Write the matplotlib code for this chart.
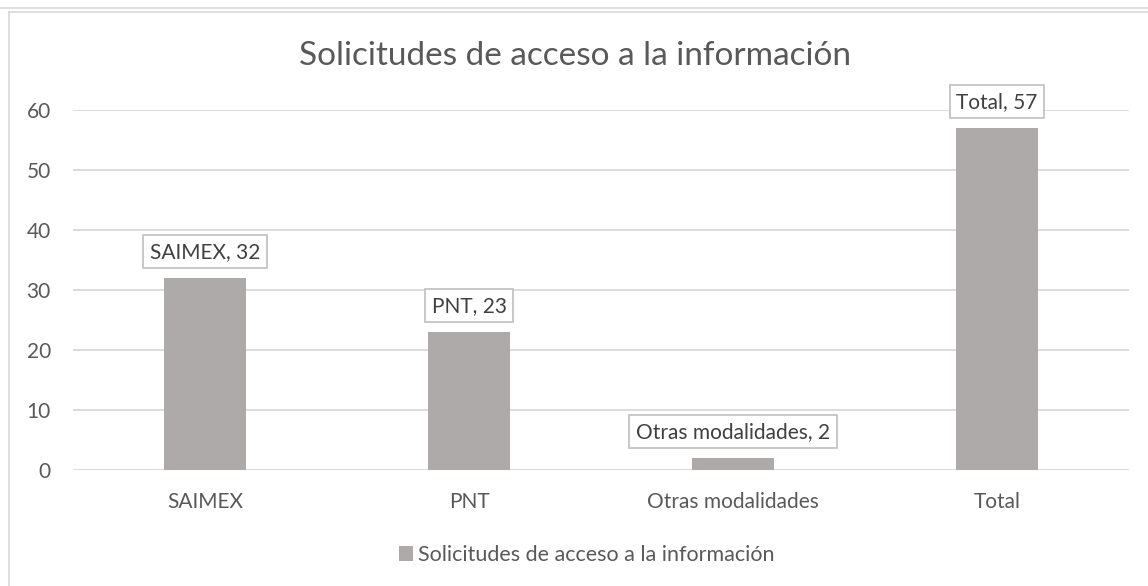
#!/usr/bin/env python3
import matplotlib
matplotlib.use("Agg")
import matplotlib.pyplot as plt
from matplotlib.lines import Line2D

categories = ["SAIMEX", "PNT", "Otras modalidades", "Total"]
values = [32, 23, 2, 57]
series_name = "Solicitudes de acceso a la información"
title = "Solicitudes de acceso a la información"
yticks = [0, 10, 20, 30, 40, 50, 60]

plt.rcParams['font.family'] = ['Lato', 'DejaVu Sans']

W, H = 1148, 586
fig = plt.figure(figsize=(W / 100, H / 100), dpi=100)
ax = fig.add_axes([73 / W, (H - 470) / H, 1056 / W, 360 / H])

bar_color = "#AEAAAA"
text_color = "#595959"
grid_color = "#D9D9D9"

x = list(range(len(categories)))
ax.bar(x, values, width=0.31, color=bar_color, zorder=2, label=series_name)

ax.set_xlim(-0.5, len(categories) - 0.5)
ax.set_ylim(0, 60)
ax.set_yticks(yticks)
ax.set_xticks(x)
ax.set_xticklabels(categories)
ax.tick_params(axis="both", length=0, labelsize=15, colors=text_color)
ax.tick_params(axis="x", pad=16)
ax.tick_params(axis="y", pad=16)
ax.yaxis.grid(True, color=grid_color, linewidth=1.3, zorder=0)
for s in ax.spines.values():
    s.set_visible(False)

# data labels in boxes
for xi, cat, v in zip(x, categories, values):
    ax.annotate(f"{cat}, {v}", (xi, v), xytext=(0, 19), textcoords="offset points",
                ha="center", va="center", fontsize=15, color="#404040", zorder=4,
                bbox=dict(boxstyle="square,pad=0.32", fc="white", ec="#BFBFBF", lw=1.2))

fig.text(575 / W, 1 - 56 / H, title, ha="center", va="center", fontsize=24, color=text_color)

ax.legend(loc="center", bbox_to_anchor=(587 / W, 1 - 555 / H), bbox_transform=fig.transFigure,
          frameon=False, fontsize=15.5, handlelength=0.65, handleheight=0.65, handletextpad=0.25,
          labelcolor=text_color)

# outer border lines
fig.add_artist(Line2D([0, 1], [1 - 7.5 / H, 1 - 7.5 / H], transform=fig.transFigure, color="#D9D9D9", lw=1.2))
fig.add_artist(Line2D([8.5 / W, 1], [1 - 11.5 / H, 1 - 11.5 / H], transform=fig.transFigure, color="#D9D9D9", lw=1.2))
fig.add_artist(Line2D([8.5 / W, 8.5 / W], [0, 1 - 11.5 / H], transform=fig.transFigure, color="#D9D9D9", lw=1.2))

fig.savefig("out.png", dpi=100, facecolor="white")
